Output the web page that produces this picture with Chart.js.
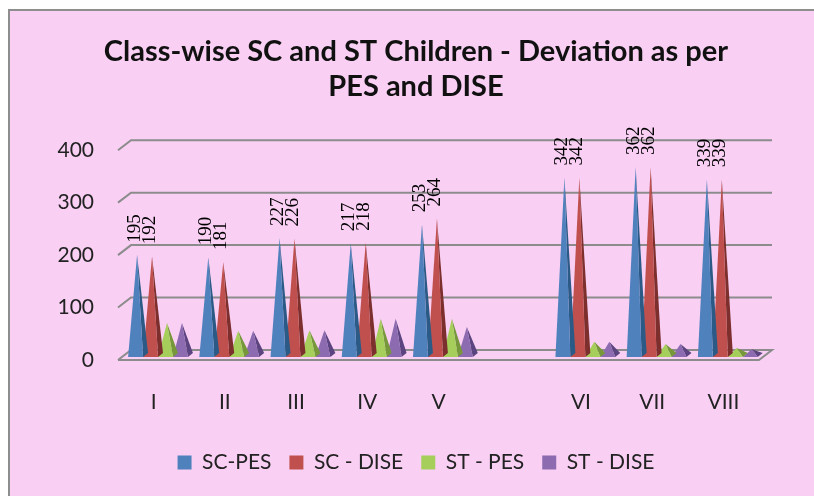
<!DOCTYPE html>
<html>
<head>
<meta charset="utf-8">
<style>
html, body { margin: 0; padding: 0; background: #fff; }
#wrap { width: 814px; height: 496px; }
</style>
<script src="https://cdn.jsdelivr.net/npm/chart.js@4"></script>
</head>
<body>
<div id="wrap"><canvas id="myChart" width="814" height="496"></canvas></div>
<script>
// Classes (the empty slot is the gap between V and VI)
var classes = ['I', 'II', 'III', 'IV', 'V', '', 'VI', 'VII', 'VIII'];
var scPes = [195, 190, 227, 217, 253, null, 342, 362, 339];
var scDise = [192, 181, 226, 218, 264, null, 342, 362, 339];
var stPes = [65, 50, 51, 73, 73, null, 29, 25, 17];
var stDise = [65, 50, 51, 73, 57, null, 29, 25, 15];
var yTicks = [0, 100, 200, 300, 400];

var frontColors = ['#4f81bd', '#c0504d', '#a5cf5a', '#8c6bb1'];
var sideColors = ['#2c5a86', '#7c2f2d', '#76973a', '#5c4480'];
var gridColor = '#8c8c8c';

// depth of the fake 3D box
var depthX = 13, depthY = 10;

// Walls and floor of the 3D box, behind the pyramids
var boxPlugin = {
    id: 'box',
    beforeDraw: function(chart) {
        var c = chart.ctx;
        c.save();
        c.fillStyle = '#ffffff';
        c.fillRect(0, 0, chart.width, chart.height);
        c.fillStyle = '#f9d0f4';
        c.fillRect(8, 10, chart.width - 8, chart.height - 10);
        c.fillStyle = '#8e8e8e';
        c.fillRect(8, 9, chart.width - 8, 2);
        c.fillRect(8, 9, 2, chart.height - 9);
        c.restore();
    },
    beforeDatasetsDraw: function(chart) {
        var c = chart.ctx, a = chart.chartArea, y = chart.scales.y;
        c.save();
        c.strokeStyle = gridColor;
        c.lineWidth = 2;
        yTicks.forEach(function(t) {
            var py = y.getPixelForValue(t);
            c.beginPath();
            c.moveTo(a.left, py);
            c.lineTo(a.left + depthX, py - depthY);
            c.lineTo(a.right + depthX, py - depthY);
            if (t === 0) {
                c.lineTo(a.right, py);
                c.lineTo(a.left, py);
            }
            c.stroke();
        });
        c.restore();
    }
};

// Replaces the flat bars with pyramids, using the bar elements' own geometry
var pyramidPlugin = {
    id: 'pyramid',
    beforeDatasetDraw: function(chart, args) {
        var c = chart.ctx, i = args.index;
        var meta = chart.getDatasetMeta(i);
        meta.data.forEach(function(bar, n) {
            if (chart.data.datasets[i].data[n] == null) return;
            var p = bar.getProps(['x', 'y', 'base', 'width'], true);
            var l = p.x - p.width / 2 + 4.4, r = p.x + p.width / 2 + 4.4;
            var base = p.base - 3, top = p.y - 3;
            var tipX = (l + r + 3) / 2;
            c.save();
            c.fillStyle = sideColors[i];
            c.beginPath();
            c.moveTo(tipX, top);
            c.lineTo(r, base);
            c.lineTo(r + 5, base - 4);
            c.closePath();
            c.fill();
            c.fillStyle = frontColors[i];
            c.beginPath();
            c.moveTo(tipX, top);
            c.lineTo(l, base);
            c.lineTo(r, base);
            c.closePath();
            c.fill();
            c.restore();
        });
        return false;
    },
    afterDatasetsDraw: function(chart) {
        var c = chart.ctx;
        // vertical value labels, only on the SC series
        [0, 1].forEach(function(i) {
            chart.getDatasetMeta(i).data.forEach(function(bar, n) {
                var v = chart.data.datasets[i].data[n];
                if (v == null) return;
                var p = bar.getProps(['x', 'y'], true);
                c.save();
                c.translate(p.x + 4, p.y - 15);
                c.rotate(-Math.PI / 2);
                c.font = '19px "Liberation Serif"';
                c.fillStyle = '#000';
                c.textAlign = 'left';
                c.textBaseline = 'middle';
                c.fillText(String(v), 0, 0);
                c.restore();
            });
        });
    }
};

function makeSet(label, values, i) {
    return {
        label: label,
        data: values,
        backgroundColor: frontColors[i],
        barPercentage: 1,
        categoryPercentage: 0.84
    };
}

var ctx = document.getElementById('myChart').getContext('2d');
var myChart = new Chart(ctx, {
    type: 'bar',
    data: {
        labels: classes,
        datasets: [
            makeSet('SC-PES', scPes, 0),
            makeSet('SC - DISE', scDise, 1),
            makeSet('ST - PES', stPes, 2),
            makeSet('ST - DISE', stDise, 3)
        ]
    },
    plugins: [boxPlugin, pyramidPlugin],
    options: {
        responsive: false,
        animation: false,
        layout: { padding: { top: 34, right: 0, bottom: 13, left: 18 } },
        plugins: {
            tooltip: { enabled: false },
            title: {
                display: true,
                text: ['Class-wise SC and ST Children - Deviation as per', 'PES and DISE'],
                color: '#111',
                font: { family: 'Lato', size: 29, weight: 'bold', lineHeight: 1.21 },
                padding: { top: 0, bottom: 46 }
            },
            legend: {
                position: 'bottom',
                labels: {
                    boxWidth: 14,
                    boxHeight: 14,
                    padding: 18,
                    color: '#222',
                    font: { family: 'Lato', size: 21 }
                }
            }
        },
        scales: {
            x: {
                afterFit: function(scale) { scale.height = 74; },
                grid: { display: false, drawTicks: false },
                border: { display: false },
                ticks: {
                    color: '#222',
                    padding: 30,
                    maxRotation: 0,
                    autoSkip: false,
                    font: { family: 'Lato', size: 21 }
                }
            },
            y: {
                min: 0,
                max: 400,
                afterFit: function(scale) { scale.width = 100; },
                grid: { display: false, drawTicks: false },
                border: { display: false },
                ticks: {
                    stepSize: 100,
                    color: '#222',
                    padding: 24,
                    font: { family: 'Lato', size: 21 }
                }
            },
            // empty axis, only keeps the space right of the box
            yRight: {
                position: 'right',
                afterFit: function(scale) { scale.width = 55; },
                grid: { display: false, drawTicks: false },
                border: { display: false },
                ticks: { display: false }
            }
        }
    }
});
</script>
</body>
</html>
